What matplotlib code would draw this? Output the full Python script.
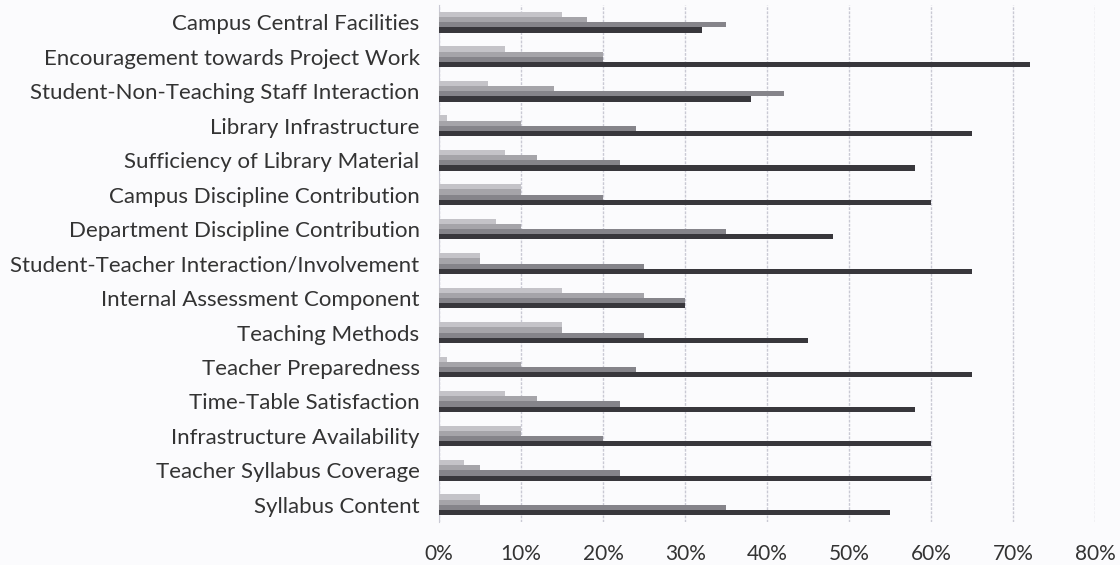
import numpy as np
import matplotlib
matplotlib.use("Agg")
import matplotlib.pyplot as plt

# categories, top to bottom as in the chart
categories = [
    "Campus Central Facilities",
    "Encouragement towards Project Work",
    "Student-Non-Teaching Staff Interaction",
    "Library Infrastructure",
    "Sufficiency of Library Material",
    "Campus Discipline Contribution",
    "Department Discipline Contribution",
    "Student-Teacher Interaction/Involvement",
    "Internal Assessment Component",
    "Teaching Methods",
    "Teacher Preparedness",
    "Time-Table Satisfaction",
    "Infrastructure Availability",
    "Teacher Syllabus Coverage",
    "Syllabus Content",
]

# four response series (lightest -> darkest), in percent
series_1 = [15, 8, 6, 1, 8, 10, 7, 5, 15, 15, 1, 8, 10, 3, 5]
series_2 = [18, 20, 14, 10, 12, 10, 10, 5, 25, 15, 10, 12, 10, 5, 5]
series_3 = [35, 20, 42, 24, 22, 20, 35, 25, 30, 25, 24, 22, 20, 22, 35]
series_4 = [32, 72, 38, 65, 58, 60, 48, 65, 30, 45, 65, 58, 60, 60, 55]

x_ticks = [0, 10, 20, 30, 40, 50, 60, 70, 80]

colors = ["#c4c3c8", "#a5a4a9", "#85848a", "#38373c"]

fig = plt.figure(figsize=(11.2, 5.65), dpi=100)
fig.patch.set_facecolor("#fbfbfd")
ax = fig.add_axes([0.392, 0.076, 0.586, 0.915])
ax.set_facecolor("#fbfbfd")

y = np.arange(len(categories))
h = 0.15
all_series = [series_1, series_2, series_3, series_4]
for i, (vals, col) in enumerate(zip(all_series, colors)):
    ax.barh(y + (i - 1.5) * h, vals, height=h, color=col, zorder=3)

ax.set_xlim(0, 80)
ax.set_ylim(len(categories) - 0.5, -0.5)
ax.set_yticks(y)
ax.set_yticklabels(categories)
ax.set_xticks(x_ticks)
ax.set_xticklabels([f"{t}%" for t in x_ticks])

ax.grid(axis="x", color="#c9c9d4", linewidth=1.0, linestyle=(0, (2, 1)), zorder=0)
for s in ["top", "right", "bottom"]:
    ax.spines[s].set_visible(False)
ax.spines["left"].set_color("#c9c9d4")
ax.tick_params(axis="y", length=0, pad=14, labelsize=16, labelcolor="#333333")
ax.tick_params(axis="x", length=0, pad=16, labelsize=15, labelcolor="#333333")
for lbl in ax.get_xticklabels() + ax.get_yticklabels():
    lbl.set_fontfamily("Lato")

fig.savefig("out.png", dpi=100, facecolor=fig.get_facecolor())
